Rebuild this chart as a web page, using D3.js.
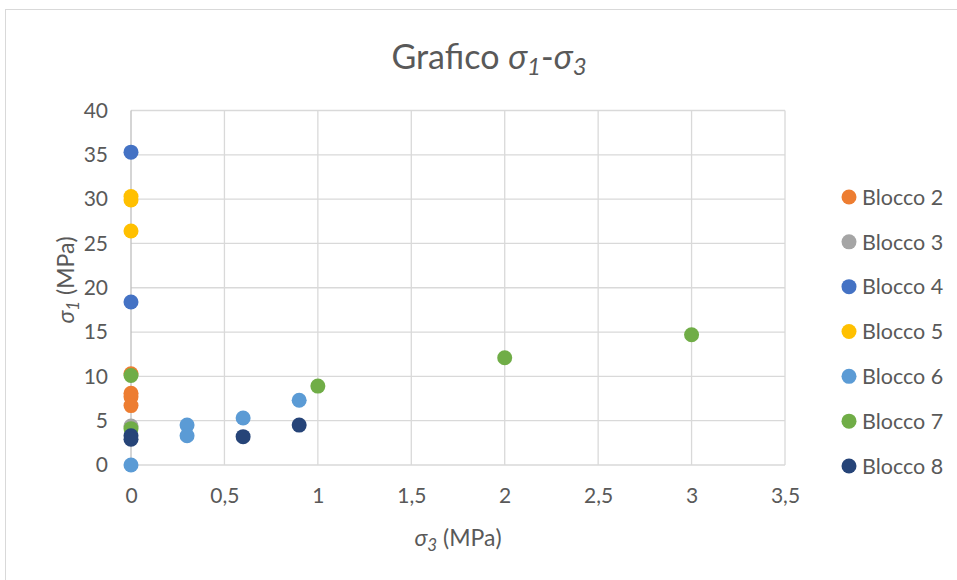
<!DOCTYPE html>
<html>
<head>
<meta charset="utf-8">
<script src="https://cdn.jsdelivr.net/npm/d3@7"></script>
<style>
  html, body { margin: 0; padding: 0; background: #fff; }
  svg { display: block; }
  text { font-family: Lato, "Open Sans", sans-serif; fill: #595959; }
</style>
</head>
<body>
<svg id="chart" width="957" height="580"></svg>
<script>
// Series names and colours
const seriesNames = ["Blocco 2", "Blocco 3", "Blocco 4", "Blocco 5", "Blocco 6", "Blocco 7", "Blocco 8"];
const seriesColors = ["#ED7D31", "#A5A5A5", "#4472C4", "#FFC000", "#5B9BD5", "#70AD47", "#264478"];

// sigma3 (x) and sigma1 (y) values per block, in MPa
const blocco2X = [0, 0, 0, 0];
const blocco2Y = [10.3, 8.1, 7.7, 6.7];
const blocco3X = [0];
const blocco3Y = [4.4];
const blocco4X = [0, 0];
const blocco4Y = [35.3, 18.4];
const blocco5X = [0, 0, 0];
const blocco5Y = [30.3, 29.9, 26.4];
const blocco6X = [0, 0.3, 0.3, 0.6, 0.9];
const blocco6Y = [0, 4.5, 3.3, 5.3, 7.3];
const blocco7X = [0, 0, 1, 2, 3];
const blocco7Y = [10.1, 4.1, 8.9, 12.1, 14.7];
const blocco8X = [0, 0, 0.6, 0.9];
const blocco8Y = [3.3, 2.9, 3.2, 4.5];

const xTicks = [0, 0.5, 1, 1.5, 2, 2.5, 3, 3.5];
const yTicks = [0, 5, 10, 15, 20, 25, 30, 35, 40];

const seriesX = [blocco2X, blocco3X, blocco4X, blocco5X, blocco6X, blocco7X, blocco8X];
const seriesY = [blocco2Y, blocco3Y, blocco4Y, blocco5Y, blocco6Y, blocco7Y, blocco8Y];
const series = seriesNames.map((name, i) => ({
  name,
  color: seriesColors[i],
  points: seriesX[i].map((x, j) => ({ x, y: seriesY[i][j] }))
}));

const svg = d3.select("#chart");

// Chart frame
svg.append("rect")
  .attr("x", 5.5).attr("y", 9.5)
  .attr("width", 960).attr("height", 600)
  .attr("fill", "#fff")
  .attr("stroke", "#D9D9D9").attr("stroke-width", 1);

const x = d3.scaleLinear().domain([0, 3.5]).range([131, 785]);
const y = d3.scaleLinear().domain([0, 40]).range([465, 110.5]);

const fmt = d => String(d).replace(".", ",");

// Gridlines
const grid = svg.append("g");
grid.selectAll("line.h").data(yTicks).join("line")
  .attr("x1", x(0)).attr("x2", x(3.5))
  .attr("y1", d => y(d)).attr("y2", d => y(d))
  .attr("stroke", "#D9D9D9").attr("stroke-width", 1.3);
grid.selectAll("line.v").data(xTicks).join("line")
  .attr("x1", d => x(d)).attr("x2", d => x(d))
  .attr("y1", y(0)).attr("y2", y(40))
  .attr("stroke", d => d === 0 ? "#BFBFBF" : "#D9D9D9").attr("stroke-width", 1.3);

// Axis tick labels
const xAxis = d3.axisBottom(x).tickValues(xTicks).tickFormat(fmt).tickSize(0).tickPadding(0);
svg.append("g").attr("transform", `translate(0,${y(0) + 23})`).call(xAxis)
  .call(g => g.select(".domain").remove())
  .call(g => g.selectAll("text").attr("font-size", 21).attr("fill", "#595959")
    .attr("font-family", "Lato, sans-serif"));

const yAxis = d3.axisLeft(y).tickValues(yTicks).tickSize(0).tickPadding(0);
svg.append("g").attr("transform", `translate(108,0)`).call(yAxis)
  .call(g => g.select(".domain").remove())
  .call(g => g.selectAll("text").attr("font-size", 21).attr("fill", "#595959")
    .attr("font-family", "Lato, sans-serif"));

// Points
series.forEach(s => {
  svg.append("g").selectAll("circle").data(s.points).join("circle")
    .attr("cx", d => x(d.x)).attr("cy", d => y(d.y))
    .attr("r", 7.5).attr("fill", s.color);
});

// Title
const title = svg.append("text")
  .attr("x", 489).attr("y", 69).attr("text-anchor", "middle")
  .attr("font-size", 34);
title.append("tspan").text("Grafico ");
title.append("tspan").attr("font-style", "italic").text("σ");
title.append("tspan").attr("font-style", "italic").attr("font-size", 24).attr("dy", 6).text("1");
title.append("tspan").attr("dy", -6).text("-");
title.append("tspan").attr("font-style", "italic").text("σ");
title.append("tspan").attr("font-style", "italic").attr("font-size", 24).attr("dy", 6).text("3");

// Axis titles
const xTitle = svg.append("text")
  .attr("x", 458).attr("y", 546).attr("text-anchor", "middle")
  .attr("font-size", 23);
xTitle.append("tspan").attr("font-style", "italic").text("σ");
xTitle.append("tspan").attr("font-style", "italic").attr("font-size", 17).attr("dy", 5).text("3");
xTitle.append("tspan").attr("dy", -5).text(" (MPa)");

const yTitle = svg.append("text")
  .attr("transform", "translate(74,280) rotate(-90)")
  .attr("text-anchor", "middle")
  .attr("font-size", 23);
yTitle.append("tspan").attr("font-style", "italic").text("σ");
yTitle.append("tspan").attr("font-style", "italic").attr("font-size", 17).attr("dy", 5).text("1");
yTitle.append("tspan").attr("dy", -5).text(" (MPa)");

// Legend
const legend = svg.append("g");
const legendRow = d3.scaleLinear().domain([0, 6]).range([197, 466]);
series.forEach((s, i) => {
  const g = legend.append("g").attr("transform", `translate(849,${legendRow(i)})`);
  g.append("circle").attr("r", 7.5).attr("fill", s.color);
  g.append("text").attr("x", 13).attr("dy", "0.36em").attr("font-size", 21.5).text(s.name);
});
</script>
</body>
</html>
